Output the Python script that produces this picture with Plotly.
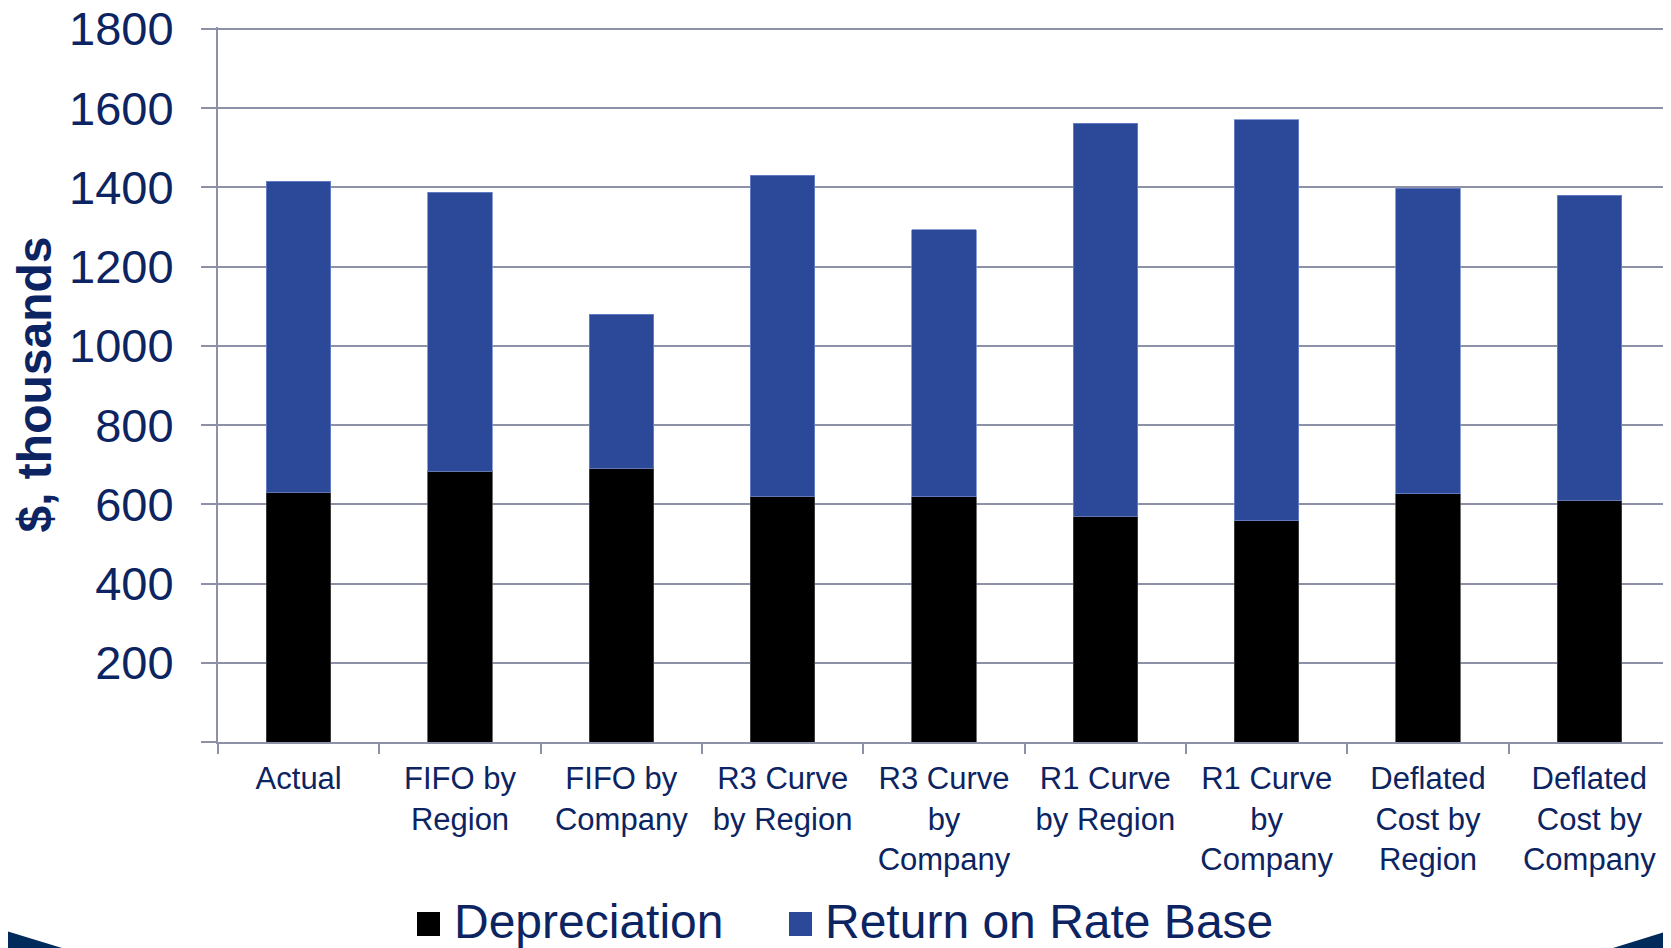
import plotly.graph_objects as go

# categories and values ($, thousands)
categories = [
    "Actual",
    "FIFO by<br>Region",
    "FIFO by<br>Company",
    "R3 Curve<br>by Region",
    "R3 Curve<br>by<br>Company",
    "R1 Curve<br>by Region",
    "R1 Curve<br>by<br>Company",
    "Deflated<br>Cost by<br>Region",
    "Deflated<br>Cost by<br>Company",
]
depreciation = [630, 684, 691, 620, 619, 570, 559, 627, 610]
return_on_rate_base = [786, 704, 389, 811, 674, 992, 1012, 771, 770]
series_names = ["Depreciation", "Return on Rate Base"]
y_ticks = [0, 200, 400, 600, 800, 1000, 1200, 1400, 1600, 1800]

# page has an 8px body margin, so the figure is 8px smaller and offset
OFF = 8
W, H = 1671 - OFF, 948 - OFF
# top margin leaves ~2px above the 1800 line so plotly draws its gridline
L, R, T, B = 218 - OFF, 1, 27 - OFF, 948 - 742
Y_MAX = 1805
NAVY = "#0c2461"
BLUE = "#2b4899"
GRID = "#8d91a7"
FONT = "Liberation Sans, Arial, sans-serif"


def px(x):
    # screen pixel -> paper x
    return (x - OFF - L) / (W - L - R)


def py(y):
    # screen pixel -> paper y
    return (H - B - (y - OFF)) / (H - T - B)


fig = go.Figure()
fig.add_trace(go.Bar(x=categories, y=depreciation, name=series_names[0],
                     marker=dict(color="#000000", line=dict(color="#4a4a4a", width=0.8))))
fig.add_trace(go.Bar(x=categories, y=return_on_rate_base, name=series_names[1],
                     marker=dict(color=BLUE, line=dict(color="#6f87cc", width=0.8))))

# legend drawn as swatches + text
shapes = []
annotations = []
for name, color, sq_x, tx_x in [(series_names[0], "#000000", 417, 452),
                                 (series_names[1], BLUE, 789, 823)]:
    shapes.append(dict(type="rect", xref="paper", yref="paper",
                       x0=px(sq_x), x1=px(sq_x + 23), y0=py(936), y1=py(912),
                       fillcolor=color, line=dict(width=0)))
    annotations.append(dict(text=name, xref="paper", yref="paper", x=px(tx_x), y=py(922),
                            xanchor="left", yanchor="middle", showarrow=False,
                            font=dict(size=48, color=NAVY, family=FONT)))

# decorative corner shapes
corner = "#012b5b"
shapes.append(dict(type="path", xref="paper", yref="paper", fillcolor=corner, line=dict(width=0),
                   path=f"M {px(0)},{py(929)} L {px(62)},{py(948)} L {px(0)},{py(948)} Z"))
shapes.append(dict(type="path", xref="paper", yref="paper", fillcolor=corner, line=dict(width=0),
                   path=f"M {px(1671)},{py(930)} L {px(1613)},{py(948)} L {px(1671)},{py(948)} Z"))

fig.update_layout(
    barmode="stack",
    bargap=0.6,
    width=W,
    height=H,
    margin=dict(l=L, r=R, t=T, b=B),
    paper_bgcolor="white",
    plot_bgcolor="white",
    showlegend=False,
    font=dict(family=FONT, color=NAVY),
    shapes=shapes,
    annotations=annotations,
    xaxis=dict(
        showline=True, linecolor=GRID, linewidth=2,
        ticks="outside", tickson="boundaries", ticklen=10, tickcolor=GRID, tickwidth=2,
        tickfont=dict(size=31, color=NAVY),
        ticklabelstandoff=8,
        showgrid=False,
        automargin=False,
    ),
    yaxis=dict(
        range=[0, Y_MAX],
        tickvals=y_ticks,
        ticktext=["" if v == 0 else str(v) for v in y_ticks],
        showline=True, linecolor=GRID, linewidth=2,
        ticks="outside", ticklen=15, tickcolor=GRID, tickwidth=2,
        showgrid=True, gridcolor=GRID, gridwidth=2,
        zeroline=False,
        tickfont=dict(size=47, color=NAVY),
        ticklabelstandoff=18,
        ticklabeloverflow="allow",
        title=dict(text="<b>$, thousands</b>", font=dict(size=48, color=NAVY), standoff=14),
        automargin=False,
    ),
)

fig.write_html("out.html")
